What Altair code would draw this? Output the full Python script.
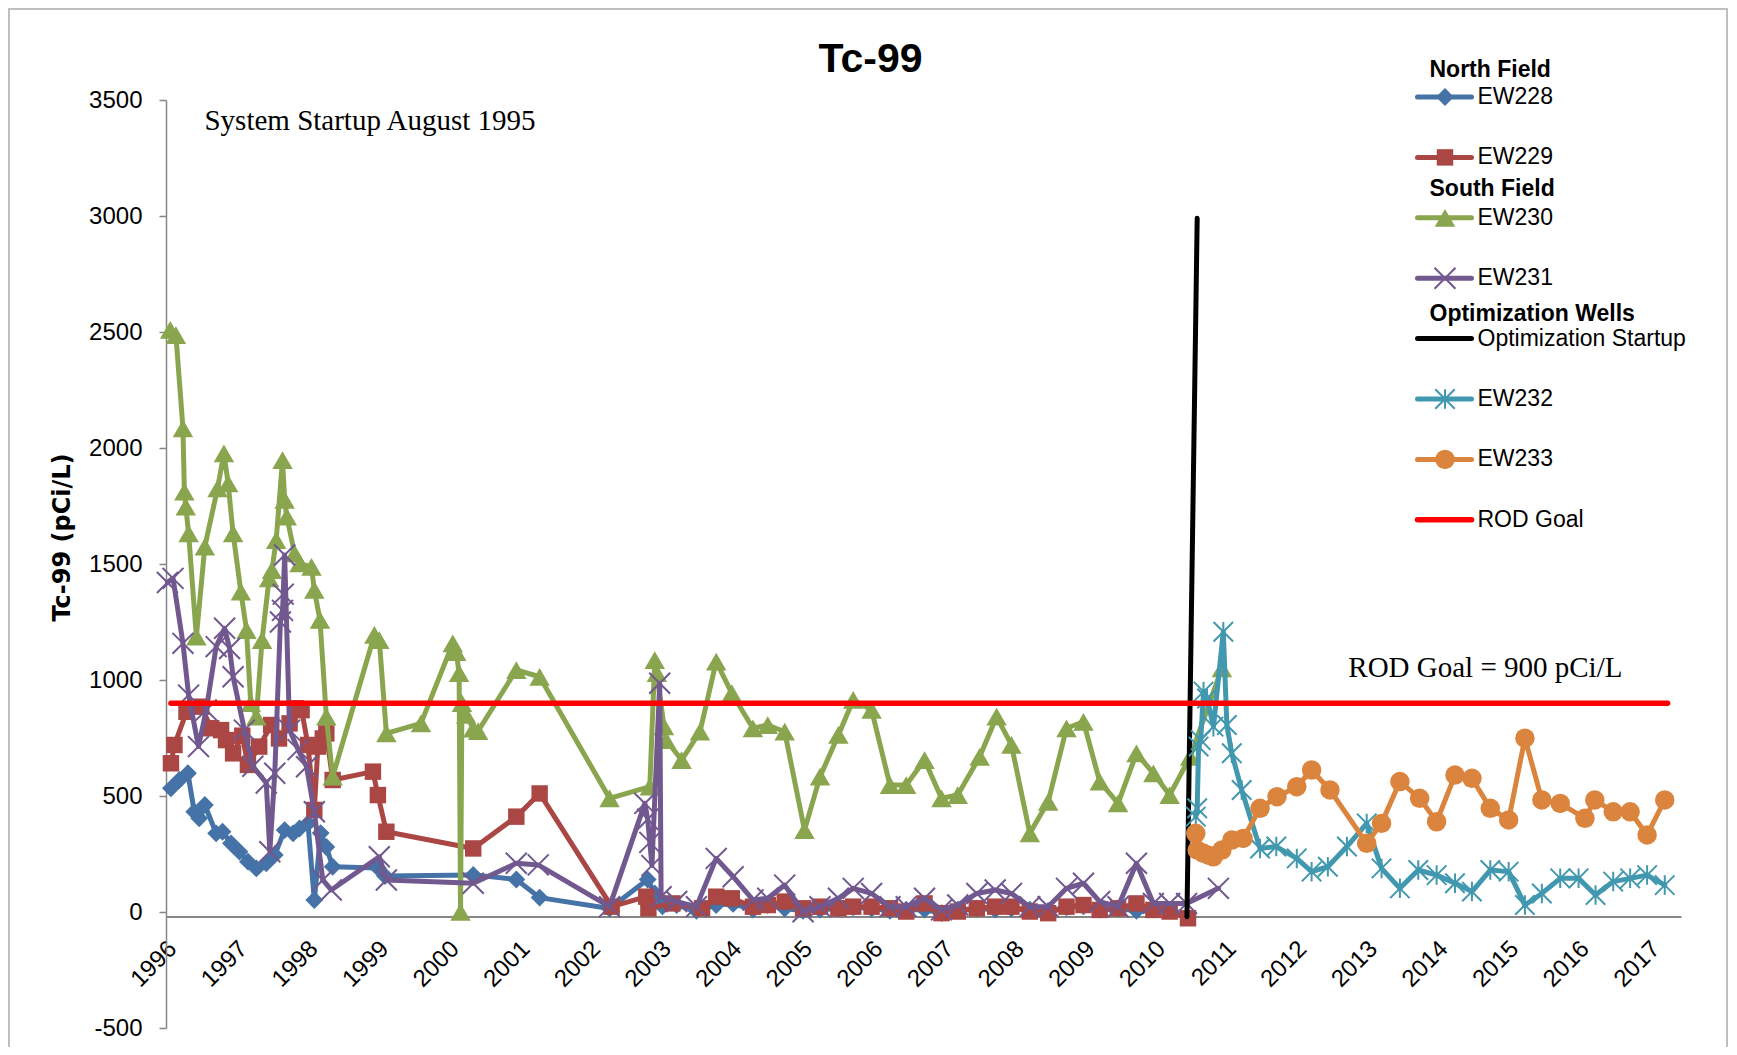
import altair as alt
import pandas as pd

# ---------------- data ----------------
year_ticks = list(range(1996, 2018))
value_ticks = [-500, 0, 500, 1000, 1500, 2000, 2500, 3000, 3500]

ew228_year = [1996.07, 1996.19, 1996.31, 1996.40, 1996.47, 1996.55, 1996.71, 1996.80, 1996.92,
              1997.04, 1997.16, 1997.28, 1997.42, 1997.54, 1997.68, 1997.80, 1997.89,
              1998.01, 1998.10, 1998.19, 1998.27, 1998.36, 1999.00, 1999.10, 2000.35, 2000.96,
              2001.29, 2002.28, 2002.82, 2002.92, 2003.03, 2003.23, 2003.51, 2003.79,
              2004.03, 2004.31, 2004.52, 2004.76, 2005.02, 2005.26, 2005.52, 2005.73, 2005.99,
              2006.25, 2006.48, 2006.74, 2006.98, 2007.21, 2007.48, 2007.74, 2007.97,
              2008.23, 2008.49, 2008.75, 2008.99, 2009.22, 2009.48, 2009.74, 2009.98, 2010.21]
ew228_val = [533, 569, 598, 432, 404, 461, 339, 346, 296,
             260, 217, 188, 210, 246, 353, 339, 360,
             382, 52, 340, 280, 195, 190, 155, 160, 140,
             62, 15, 140, 80, 25, 30, 5, 30,
             35, 10, 30, 15, 5, 10, 15, 20, 15,
             5, 10, 10, -5, 10, 15, 10, 15,
             10, 5, 20, 25, 10, 15, 5, 10, 10]

ew229_year = [1996.07, 1996.12, 1996.29, 1996.50, 1996.64, 1996.78, 1996.85, 1996.95,
              1997.08, 1997.16, 1997.32, 1997.49, 1997.60, 1997.75, 1997.84, 1997.92,
              1998.01, 1998.10, 1998.15, 1998.22, 1998.27, 1998.36, 1998.93, 1999.00, 1999.12,
              2000.35, 2000.96, 2001.29, 2002.31, 2002.80, 2002.83, 2003.17, 2003.59, 2003.79,
              2004.01, 2004.31, 2004.52, 2004.76, 2005.02, 2005.26, 2005.52, 2005.73, 2005.99,
              2006.25, 2006.48, 2006.74, 2006.98, 2007.21, 2007.48, 2007.74, 2007.97,
              2008.23, 2008.49, 2008.75, 2008.99, 2009.22, 2009.48, 2009.74, 2009.98,
              2010.21, 2010.47]
ew229_val = [641, 720, 863, 885, 792, 784, 741, 684,
             760, 634, 713, 806, 748, 813, 878, 870,
             720, 440, 713, 748, 770, 569, 605, 504, 346,
             274, 411, 511, 23, 66, 16, 37, 16, 66,
             59, 23, 30, 45, 16, 23, 16, 23, 23,
             16, 2, 37, -5, 2, 16, 23, 23,
             2, -5, 23, 30, 9, 16, 37, 9,
             2, -27]

ew230_year = [1996.06, 1996.14, 1996.24, 1996.26, 1996.28, 1996.32, 1996.43, 1996.55, 1996.73,
              1996.82, 1996.88, 1996.95, 1997.06, 1997.14, 1997.20, 1997.28, 1997.36, 1997.46,
              1997.50, 1997.56, 1997.65, 1997.68, 1997.71, 1997.82, 1997.89, 1998.06, 1998.10,
              1998.18, 1998.27, 1998.36, 1998.95, 1999.02, 1999.12, 1999.61, 2000.06, 2000.11,
              2000.15, 2000.17, 2000.19, 2000.25, 2000.35, 2000.42, 2000.96, 2001.29, 2002.28,
              2002.85, 2002.92, 2002.95, 2003.05, 2003.08, 2003.30, 2003.56, 2003.79, 2004.01,
              2004.31, 2004.52, 2004.76, 2005.04, 2005.26, 2005.52, 2005.73, 2005.99, 2006.25,
              2006.48, 2006.74, 2006.98, 2007.21, 2007.52, 2007.76, 2007.97, 2008.23, 2008.49,
              2008.75, 2008.99, 2009.22, 2009.48, 2009.74, 2009.98, 2010.21, 2010.50, 2010.95]
ew230_val = [2509, 2487, 2085, 1812, 1747, 1632, 1187, 1575, 1826,
             1977, 1847, 1632, 1381, 1215, 900, 842, 1172, 1438,
             1474, 1603, 1948, 1776, 1704, 1546, 1503, 1488, 1388,
             1259, 842, 583, 1194, 1172, 770, 813, 1158, 1120,
             1030, 0, 900, 850, 790, 780, 1043, 1014, 490,
             540, 1086, 1030, 800, 741, 655, 777, 1079, 943,
             792, 806, 777, 353, 583, 763, 914, 871, 547,
             547, 655, 490, 504, 669, 842, 720, 339, 475,
             792, 820, 562, 468, 684, 598, 504, 669, 1050]

ew231_year = [1996.02, 1996.10, 1996.24, 1996.32, 1996.46, 1996.57, 1996.71, 1996.83, 1996.90,
              1996.95, 1997.11, 1997.23, 1997.42, 1997.47, 1997.54, 1997.62, 1997.65, 1997.66,
              1997.68, 1997.75, 1997.87, 1997.99, 1998.10, 1998.22, 1998.34, 1999.02, 1999.12,
              2000.35, 2000.96, 2001.27, 2002.28, 2002.78, 2002.82, 2002.85, 2002.88, 2002.99,
              2003.01, 2003.23, 2003.51, 2003.79, 2004.03, 2004.31, 2004.52, 2004.76, 2005.02,
              2005.26, 2005.52, 2005.73, 2005.99, 2006.25, 2006.48, 2006.74, 2006.98, 2007.21,
              2007.48, 2007.74, 2007.97, 2008.23, 2008.49, 2008.75, 2008.99, 2009.22, 2009.48,
              2009.74, 2009.98, 2010.21, 2010.45, 2010.90]
ew231_val = [1420, 1438, 1158, 935, 713, 871, 1144, 1223, 1136,
             1014, 784, 628, 556, 260, 598, 1250, 1300, 1370,
             1539, 784, 700, 626, 432, 138, 95, 238, 138,
             124, 210, 203, 23, 468, 400, 300, 200, 986,
             66, 45, 23, 231, 152, 52, 59, 116, 1,
             23, 59, 102, 80, 23, 23, 59, 9, 30,
             80, 95, 80, 23, 23, 102, 124, 45, 23,
             210, 37, 37, 37, 102]

opt_year = [2010.455, 2010.60]
opt_val = [-20, 2990]

ew232_year = [2010.58, 2010.60, 2010.62, 2010.65, 2010.69, 2010.74, 2010.83, 2010.97,
              2011.02, 2011.09, 2011.23, 2011.49, 2011.72, 2012.01, 2012.22, 2012.45, 2012.72,
              2013.00, 2013.21, 2013.47, 2013.73, 2013.99, 2014.25, 2014.49, 2014.75,
              2015.01, 2015.24, 2015.48, 2015.74, 2016.00, 2016.24, 2016.49, 2016.73, 2016.97,
              2017.22]
ew232_val = [411, 447, 713, 741, 950, 920, 799, 1208,
             806, 684, 526, 274, 282, 231, 174, 195, 282,
             382, 188, 102, 181, 159, 124, 88, 181,
             174, 30, 80, 145, 145, 73, 131, 145, 159,
             116]

ew233_year = [2010.58, 2010.60, 2010.69, 2010.76, 2010.83, 2010.95, 2011.09, 2011.25, 2011.49,
              2011.73, 2012.01, 2012.22, 2012.48, 2013.00, 2013.21, 2013.47, 2013.75, 2013.99,
              2014.25, 2014.49, 2014.75, 2015.01, 2015.24, 2015.48, 2015.74, 2016.09, 2016.23,
              2016.49, 2016.73, 2016.97, 2017.22]
ew233_val = [339, 267, 253, 245, 238, 267, 310, 317, 447,
             497, 540, 612, 526, 296, 382, 562, 490, 389,
             590, 576, 447, 397, 749, 483, 468, 404, 483,
             432, 432, 332, 483]

rod_year = [1996.07, 2017.26]
rod_val = [900, 900]

# ---------------- styling ----------------
SANS = "Liberation Sans"
SERIF = "Liberation Serif"
X_PATH = "M-1,-1L1,1M-1,1L1,-1"
AST_PATH = "M-1,-1L1,1M-1,1L1,-1M0,-1L0,1"
AXIS_GRAY = "#868686"

W, H = 1515, 928

xscale = alt.Scale(domain=[1996.0, 2017.45], nice=False, zero=False)
yscale = alt.Scale(domain=[-500, 3500], nice=False, zero=False)

xaxis = alt.Axis(values=year_ticks, format="d", labelAngle=-45, labelAlign="right",
                 labelBaseline="top", labelFontSize=24, labelFont=SANS, labelColor="black",
                 labelPadding=20, labelOffset=-2, ticks=False, tickSize=0,
                 domainColor=AXIS_GRAY, domainWidth=2, grid=False, offset=-111.5,
                 title=None, labelOverlap=False)
yaxis = alt.Axis(values=value_ticks, labelExpr="'' + datum.value", labelFontSize=24,
                 labelFont=SANS, labelColor="black", labelPadding=17, tickSize=7,
                 tickColor=AXIS_GRAY, tickWidth=1.5, domainColor=AXIS_GRAY, domainWidth=1.5,
                 grid=False, title="Tc-99 (pCi/L)", titleFont="DejaVu Sans", titleFontSize=24,
                 titleFontWeight="bold", titleColor="black", titleAngle=270,
                 titleX=-104, titleY=437, titleAlign="center", titleBaseline="middle",
                 labelOverlap=False)

X = alt.X("year:Q", scale=xscale, axis=xaxis)
Y = alt.Y("value:Q", scale=yscale, axis=yaxis)

series = [
    # name, years, values, color, shape, filled, size, marker stroke
    ("EW228", ew228_year, ew228_val, "#4572A7", "diamond", True, 320, 1),
    ("EW229", ew229_year, ew229_val, "#AA4643", "square", True, 270, 1),
    ("EW230", ew230_year, ew230_val, "#89A54E", "triangle-up", True, 420, 1),
    ("EW231", ew231_year, ew231_val, "#71588F", X_PATH, False, 440, 2),
    ("Optimization Startup", opt_year, opt_val, "#000000", None, True, 0, 0),
    ("EW232", ew232_year, ew232_val, "#4198AF", AST_PATH, False, 380, 2),
    ("EW233", ew233_year, ew233_val, "#DB843D", "circle", True, 380, 1),
    ("ROD Goal", rod_year, rod_val, "#FF0000", None, True, 0, 0),
]

layers = []
for name, yrs, vals, color, shape, filled, size, msw in series:
    d = pd.DataFrame({"year": yrs, "value": vals, "idx": list(range(len(yrs)))})
    base = alt.Chart(d)
    lw = 5.5 if name == "ROD Goal" else 5
    layers.append(base.mark_line(color=color, strokeWidth=lw, strokeJoin="round",
                                 strokeCap="round").encode(x=X, y=Y, order="idx:Q"))
    if shape is not None:
        pm = base.mark_point(shape=shape, filled=filled, size=size, color=color,
                             opacity=1, strokeWidth=msw)
        layers.append(pm.encode(x=X, y=Y))

one = pd.DataFrame({"k": [0]})

# title and annotations
layers.append(alt.Chart(one).mark_text(text="Tc-99", font=SANS, fontSize=41, fontWeight="bold",
                                       align="center", baseline="alphabetic", color="black")
              .encode(x=alt.value(704.5), y=alt.value(-28)))
layers.append(alt.Chart(one).mark_text(text="System Startup August 1995", font=SERIF,
                                       fontSize=29, align="left", baseline="alphabetic",
                                       color="black")
              .encode(x=alt.datum(1996.545, scale=xscale), y=alt.datum(3371, scale=yscale)))
layers.append(alt.Chart(one).mark_text(text="ROD Goal = 900 pCi/L", font=SERIF,
                                       fontSize=29, align="center", baseline="alphabetic",
                                       color="black")
              .encode(x=alt.datum(2014.68, scale=xscale), y=alt.datum(1014, scale=yscale)))

# legend (manual, in pixel space relative to the plot area)
LX_LINE0, LX_LINE1, LX_MARK, LX_TEXT, LX_HEAD = 1251.5, 1305.5, 1279, 1311.5, 1263.5
L_Y0, L_DY = -3, 60.4
for i, (name, yrs, vals, color, shape, filled, size, msw) in enumerate(series):
    ly = L_Y0 + i * L_DY
    lw = 5.5 if name == "ROD Goal" else 5
    layers.append(alt.Chart(one).mark_rule(color=color, strokeWidth=lw, strokeCap="round")
                  .encode(x=alt.value(LX_LINE0), x2=alt.value(LX_LINE1), y=alt.value(ly)))
    if shape is not None:
        layers.append(alt.Chart(one).mark_point(shape=shape, filled=filled, size=size,
                                                color=color, opacity=1, strokeWidth=msw)
                      .encode(x=alt.value(LX_MARK), y=alt.value(ly)))
    layers.append(alt.Chart(one).mark_text(text=name, font=SANS, fontSize=23, align="left",
                                           baseline="middle", color="black")
                  .encode(x=alt.value(LX_TEXT), y=alt.value(ly)))

for txt, hy in [("North Field", -30.5), ("South Field", 89), ("Optimization Wells", 214)]:
    layers.append(alt.Chart(one).mark_text(text=txt, font=SANS, fontSize=23, fontWeight="bold",
                                           align="left", baseline="middle", color="black")
                  .encode(x=alt.value(LX_HEAD), y=alt.value(hy)))

# chart frame
layers.append(alt.Chart(one).mark_rect(fillOpacity=0, stroke="#BFBFBF", strokeWidth=2)
              .encode(x=alt.value(-157), x2=alt.value(1561), y=alt.value(-91), y2=alt.value(1000)))

chart = alt.layer(*layers).properties(
    width=W, height=H,
    autosize=alt.AutoSizeParams(type="none"),
    padding={"left": 158, "top": 92, "right": 48, "bottom": 19},
).configure_view(strokeWidth=0)

chart.save("out.html", embed_options={"renderer": "svg", "actions": False})
